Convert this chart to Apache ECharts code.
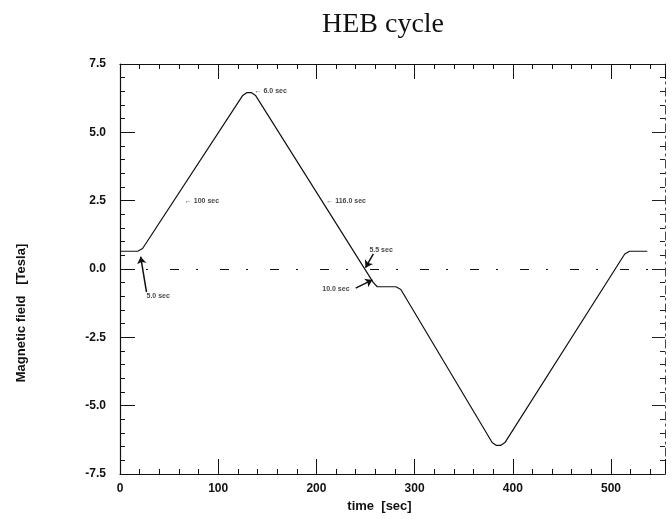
<!DOCTYPE html>
<html>
<head>
<meta charset="utf-8">
<script src="https://cdn.jsdelivr.net/npm/echarts@6/dist/echarts.min.js"></script>
<style>
    html, body { margin: 0; padding: 0; background: #fff; }
    #main { width: 672px; height: 519px; }
</style>
</head>
<body>
<div id="main"></div>
<script>
    // field profile: time [sec] / field [Tesla]
    var times = [0, 18, 23, 125, 129, 134, 138, 258, 262, 281, 286, 379, 383, 388, 392, 514, 519, 537];
    var field = [0.65, 0.65, 0.75, 6.35, 6.45, 6.45, 6.35, -0.5, -0.65, -0.65, -0.75, -6.35, -6.45, -6.45, -6.35, 0.55, 0.65, 0.65];

    // small annotations on the curve
    var noteText = ['\u2190 6.0 sec', '\u2190 100 sec', '\u2190 116.0 sec', '5.5 sec', '10.0 sec', '5.0 sec'];
    var noteTime = [137, 66, 210, 254, 206, 27];
    var noteField = [6.5, 2.5, 2.5, 0.7, -0.75, -1.0];

    // slanted pointer arrows: [from, to]
    var arrowFrom = [[258, 0.55], [240, -0.7], [27, -0.85]];
    var arrowTo = [[250, 0.05], [257, -0.4], [21, 0.45]];

    var xTicks = [0, 100, 200, 300, 400, 500];

    var curve = times.map(function (t, i) { return [t, field[i]]; });
    var notes = noteText.map(function (s, i) { return { name: s, value: [noteTime[i], noteField[i]] }; });
    var arrows = arrowFrom.map(function (p, i) { return [{ coord: p }, { coord: arrowTo[i] }]; });

    var myChart = echarts.init(document.getElementById('main'));
    var tickFont = { color: '#111', fontFamily: 'Liberation Sans', fontWeight: 'bold', fontSize: 12 };
    var option = {
        animation: false,
        title: {
            text: 'HEB cycle',
            left: 378, top: 6, textAlign: 'center',
            textStyle: { fontFamily: 'Liberation Serif', fontWeight: 'normal', fontSize: 28, color: '#111' }
        },
        grid: { left: 120, right: 7, top: 64, bottom: 45 },
        xAxis: [
            {
                type: 'value', min: 0, max: 555, interval: 100,
                name: 'time  [sec]', nameLocation: 'middle', nameGap: 22,
                nameTextStyle: { color: '#111', fontFamily: 'Liberation Sans', fontWeight: 'bold', fontSize: 13, padding: [0, 26, 0, 0] },
                axisLine: { onZero: false, lineStyle: { color: '#111', width: 1.2 } },
                axisTick: { inside: true, length: 15, lineStyle: { color: '#111' } },
                minorTick: { show: true, splitNumber: 5, length: 5, lineStyle: { color: '#111' } },
                splitLine: { show: false },
                axisLabel: Object.assign({ margin: 9, formatter: function (v) { return xTicks.indexOf(v) >= 0 ? String(v) : ''; } }, tickFont)
            },
            {
                type: 'value', position: 'top', min: 0, max: 555, interval: 100,
                axisLine: { onZero: false, lineStyle: { color: '#111', width: 1.2 } },
                axisTick: { inside: true, length: 15, lineStyle: { color: '#111' } },
                minorTick: { show: true, splitNumber: 5, length: 5, lineStyle: { color: '#111' } },
                splitLine: { show: false },
                axisLabel: { show: false }
            }
        ],
        yAxis: [
            {
                type: 'value', min: -7.5, max: 7.5, interval: 2.5,
                name: 'Magnetic field   [Tesla]', nameLocation: 'middle', nameGap: 92,
                nameTextStyle: { color: '#111', fontFamily: 'Liberation Sans', fontWeight: 'bold', fontSize: 13, padding: [0, 88, 0, 0] },
                axisLine: { onZero: false, lineStyle: { color: '#111', width: 1.2 } },
                axisTick: { inside: true, length: 15, lineStyle: { color: '#111' } },
                minorTick: { show: true, splitNumber: 5, length: 5, lineStyle: { color: '#111' } },
                splitLine: { show: false },
                axisLabel: Object.assign({ margin: 14, formatter: function (v) { return v.toFixed(1); } }, tickFont)
            },
            {
                type: 'value', position: 'right', min: -7.5, max: 7.5, interval: 2.5,
                axisLine: { onZero: false, lineStyle: { color: '#444', width: 1, type: [8, 4, 2, 4] } },
                axisTick: { inside: true, length: 13, lineStyle: { color: '#222' } },
                minorTick: { show: true, splitNumber: 5, length: 5, lineStyle: { color: '#222' } },
                splitLine: { show: false },
                axisLabel: { show: false }
            }
        ],
        series: [
            {
                name: 'field',
                type: 'line',
                data: curve,
                symbol: 'none',
                lineStyle: { color: '#111', width: 1.2 },
                markLine: {
                    silent: true,
                    symbol: 'none',
                    label: { show: false },
                    lineStyle: { color: '#111', width: 1.2, type: [9, 17, 2, 22] },
                    data: [{ yAxis: 0 }]
                }
            },
            {
                name: 'notes',
                type: 'scatter',
                data: notes,
                symbolSize: 0,
                label: {
                    show: true, position: 'right', distance: 0,
                    formatter: '{b}',
                    color: '#111', fontFamily: 'Liberation Sans', fontWeight: 'bold', fontSize: 7
                },
                markLine: {
                    silent: true,
                    symbol: ['none', 'arrow'],
                    symbolSize: 7,
                    label: { show: false },
                    lineStyle: { color: '#111', width: 1.5, type: 'solid' },
                    data: arrows
                }
            }
        ]
    };
    myChart.setOption(option);
</script>
</body>
</html>
